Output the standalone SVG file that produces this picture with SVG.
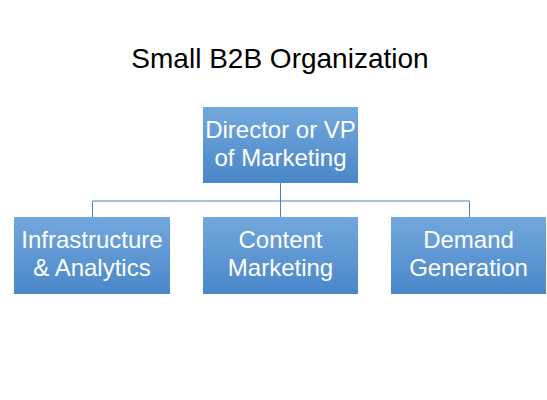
<svg xmlns="http://www.w3.org/2000/svg" width="547" height="400" viewBox="0 0 547 400">
<defs>
<linearGradient id="g" x1="0" y1="0" x2="0" y2="1">
<stop offset="0" stop-color="#72a8dd"/>
<stop offset="1" stop-color="#4a87c9"/>
</linearGradient>
<style>
.box{fill:url(#g);}
.lbl{font-family:"Liberation Sans",Arial,sans-serif;font-size:24px;fill:#ffffff;text-anchor:middle;}
.title{font-family:"Liberation Sans",Arial,sans-serif;font-size:28px;fill:#000000;text-anchor:middle;}
.conn{fill:none;stroke:#4f81bd;stroke-width:1;}
</style>
</defs>
<rect width="547" height="400" fill="#ffffff"/>
<text class="title" x="280" y="68">Small B2B Organization</text>
<g id="connectors">
<path class="conn" d="M280.5 183 V201 M92.5 217 V201 H469.5 V217 M280.5 201 V217"/>
</g>
<g id="director">
<rect class="box" x="203" y="107" width="155" height="76"/>
<text class="lbl" x="280.5" y="138">Director or VP</text>
<text class="lbl" x="280.5" y="166">of Marketing</text>
</g>
<g id="infra">
<rect class="box" x="14" y="217" width="156" height="77"/>
<text class="lbl" x="92" y="248">Infrastructure</text>
<text class="lbl" x="92" y="276">&amp; Analytics</text>
</g>
<g id="content">
<rect class="box" x="203" y="217" width="155" height="77"/>
<text class="lbl" x="280.5" y="248">Content</text>
<text class="lbl" x="280.5" y="276">Marketing</text>
</g>
<g id="demand">
<rect class="box" x="391" y="217" width="155" height="77"/>
<text class="lbl" x="468.5" y="248">Demand</text>
<text class="lbl" x="468.5" y="276">Generation</text>
</g>
</svg>
